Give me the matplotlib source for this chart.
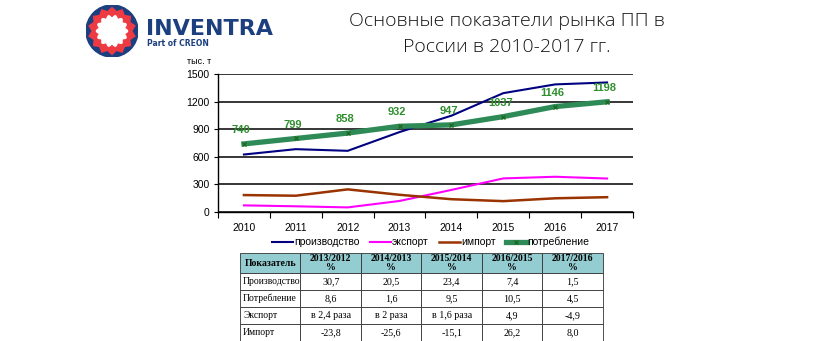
import numpy as np
import matplotlib
matplotlib.use("Agg")
import matplotlib.pyplot as plt
from matplotlib.patches import Circle, Polygon
from matplotlib.lines import Line2D

years = ["2010", "2011", "2012", "2013", "2014", "2015", "2016", "2017"]
production = [625, 683, 665, 869, 1047, 1292, 1387, 1408]
export = [72, 62, 50, 120, 240, 365, 383, 364]
imports = [184, 177, 246, 187, 139, 118, 149, 161]
consumption = [740, 799, 858, 932, 947, 1037, 1146, 1198]

table_header = ["Показатель", "2013/2012\n%", "2014/2013\n%", "2015/2014\n%",
                "2016/2015\n%", "2017/2016\n%"]
table_rows = [
    ["Производство", "30,7", "20,5", "23,4", "7,4", "1,5"],
    ["Потребление", "8,6", "1,6", "9,5", "10,5", "4,5"],
    ["Экспорт", "в 2,4 раза", "в 2 раза", "в 1,6 раза", "4,9", "-4,9"],
    ["Импорт", "-23,8", "-25,6", "-15,1", "26,2", "8,0"],
]

W, H = 820, 341
plt.rcParams["font.family"] = ["Liberation Sans", "DejaVu Sans"]
fig = plt.figure(figsize=(W / 100, H / 100), dpi=100)


def box(x0, y0, x1, y1):
    # pixel box (top-left origin) -> figure fraction rect
    return [x0 / W, 1 - y1 / H, (x1 - x0) / W, (y1 - y0) / H]


# --- logo ---
lax = fig.add_axes(box(86, 5, 138, 57))
lax.set_xlim(-1, 1)
lax.set_ylim(-1, 1)
lax.set_aspect("equal")
lax.axis("off")
lax.add_patch(Circle((0, 0), 1.0, color="#1c3f7f"))
n = 14
ang = np.linspace(0, 2 * np.pi, 2 * n, endpoint=False) + np.pi / 2
r_out = np.where(np.arange(2 * n) % 2 == 0, 0.9, 0.76)
lax.add_patch(Polygon(np.c_[r_out * np.cos(ang), r_out * np.sin(ang)], color="#ee3b43"))
ang2 = np.linspace(0, 2 * np.pi, 8 * n, endpoint=False)
r_in = 0.55 + 0.05 * np.cos(n * ang2)
lax.add_patch(Polygon(np.c_[r_in * np.cos(ang2), r_in * np.sin(ang2)], color="white"))

fig.text(146 / W, 1 - 29 / H, "INVENTRA", fontsize=16, fontweight="bold",
         family="DejaVu Sans", color="#1c3f7f", va="center", ha="left")
fig.text(147 / W, 1 - 43 / H, "Part of CREON", fontsize=5.5, fontweight="bold",
         family="DejaVu Sans", color="#1c3f7f", va="center", ha="left")

# --- title ---
title_font = dict(fontsize=14, family=["Open Sans", "DejaVu Sans"],
                  fontweight="light", color="#151515", ha="center", va="center")
fig.text(507 / W, 1 - 21 / H, "Основные показатели рынка ПП в", **title_font)
fig.text(507 / W, 1 - 47 / H, "России в 2010-2017 гг.", **title_font)

# --- chart ---
ax = fig.add_axes(box(218, 74, 633, 212))
x = np.arange(len(years))
ax.plot(x, production, color="#000080", lw=1.5, label="производство")
ax.plot(x, export, color="#ff00ff", lw=1.5, label="экспорт")
ax.plot(x, imports, color="#993300", lw=1.8, label="импорт")
ax.plot(x, consumption, color="#2e8b57", lw=3.8, marker="x", ms=3,
        mec="#1f6b1f", mew=1, label="потребление")

for xi, v in zip(x, consumption):
    ax.annotate(str(v), (xi, v), xytext=(-2, 10), textcoords="offset points",
                ha="center", va="center", fontsize=8, fontweight="bold",
                color="#2f8f2f")

ax.set_xlim(-0.5, len(years) - 0.5)
ax.set_ylim(0, 1500)
ax.set_yticks(range(0, 1501, 300))
ax.set_xticks(x)
ax.set_xticklabels(years)
ax.set_xticks(np.arange(-0.5, len(years)), minor=True)
ax.tick_params(axis="x", which="major", length=0, pad=8, labelsize=7.5)
ax.tick_params(axis="x", which="minor", length=4, width=0.8, direction="out")
ax.tick_params(axis="y", length=3, width=0.8, labelsize=7.5, pad=3)
ax.yaxis.grid(True, color="black", lw=1.1)
ax.set_axisbelow(True)
for s in ("top", "right"):
    ax.spines[s].set_visible(False)
for s in ("left", "bottom"):
    ax.spines[s].set_color("black")
    ax.spines[s].set_linewidth(1)

fig.text(199 / W, 1 - 62 / H, "тыс. т", fontsize=6.5, ha="center", va="center")

handles = [Line2D([], [], color="#000080", lw=1.5),
           Line2D([], [], color="#ff00ff", lw=1.5),
           Line2D([], [], color="#993300", lw=1.8),
           Line2D([], [], color="#2e8b57", lw=3.8, marker="x", ms=3,
                  mec="#1f6b1f", mew=1)]
fig.legend(handles, ["производство", "экспорт", "импорт", "потребление"],
           loc="center", bbox_to_anchor=(431 / W, 1 - 242 / H), ncol=4,
           frameon=False, fontsize=7.5, handlelength=2.0, handletextpad=0.1,
           columnspacing=1.0)

# --- table ---
tax = fig.add_axes(box(240, 253, 603, 341))
tax.axis("off")
tbl = tax.table(cellText=table_rows, colLabels=table_header, bbox=[0, 0, 1, 1],
                cellLoc="center")
tbl.auto_set_font_size(False)
for (r, c), cell in tbl.get_celld().items():
    cell.set_linewidth(0.6)
    cell.set_edgecolor("#333333")
    cell.set_height(20 / 88 if r == 0 else 17 / 88)
    t = cell.get_text()
    t.set_fontsize(7 if r == 0 else 7.2)
    t.set_family(["Liberation Serif", "DejaVu Serif"])
    if r == 0:
        cell.set_facecolor("#93cdd1")
        t.set_fontweight("bold")
        t.set_linespacing(1.0)
    elif c == 0:
        t.set_ha("left")
        t.set_fontsize(6.9)
        cell.PAD = 0.05

fig.savefig("out.png", dpi=100)
